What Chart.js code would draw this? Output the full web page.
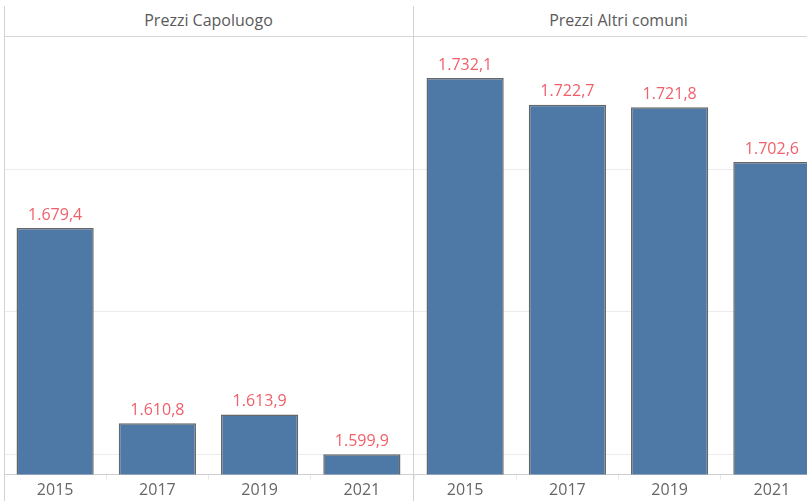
<!DOCTYPE html>
<html>
<head>
<meta charset="utf-8">
<script src="https://cdn.jsdelivr.net/npm/chart.js@4"></script>
<style>
  html, body { margin: 0; padding: 0; background: #fff; }
  body { width: 807px; height: 501px; overflow: hidden; position: relative; font-family: "Open Sans", Lato, sans-serif; }
  .panel { position: absolute; top: 0; width: 409px; height: 501px; }
  .header { height: 36px; line-height: 40px; text-align: center; color: #5a5a5a; font-size: 16px; border-bottom: 1px solid #d6d6d6; }
  .plot { position: absolute; top: 37px; left: 0; width: 409px; height: 464px; }
  .vline { position: absolute; top: 6px; bottom: 0; width: 1px; background: #d2d2d2; }
  .hline { position: absolute; left: 4px; right: 0; top: 36px; height: 1px; background: #d6d6d6; }
</style>
</head>
<body>
<div class="panel" style="left:4px">
  <div class="header" id="title0"></div>
  <div class="plot"><canvas id="chart0"></canvas></div>
</div>
<div class="panel" style="left:414px">
  <div class="header" id="title1"></div>
  <div class="plot"><canvas id="chart1"></canvas></div>
</div>
<div class="hline"></div>
<div class="vline" style="left:4px"></div>
<div class="vline" style="left:413px"></div>

<script>
// ====== Data ======
const years = ["2015", "2017", "2019", "2021"];
const capoluogoValues = [1679.4, 1610.8, 1613.9, 1599.9];
const altriComuniValues = [1732.1, 1722.7, 1721.8, 1702.6];
const panelTitles = ["Prezzi Capoluogo", "Prezzi Altri comuni"];
const yMin = 1592.8;
const yMax = 1746.5;
const yStep = 50;

const FONT = "'Open Sans', Lato, sans-serif";

// Italian style number: 1.679,4
const fmt = (v) => {
  const [int, dec] = v.toFixed(1).split(".");
  return int.replace(/\B(?=(\d{3})+(?!\d))/g, ".") + "," + dec;
};

// draws the value above each bar
const valueLabels = {
  id: "valueLabels",
  afterDatasetsDraw(chart) {
    const { ctx } = chart;
    const meta = chart.getDatasetMeta(0);
    ctx.save();
    ctx.font = "16px " + FONT;
    ctx.fillStyle = "#f0606a";
    ctx.textAlign = "center";
    ctx.textBaseline = "middle";
    meta.data.forEach((bar, i) => {
      ctx.fillText(fmt(chart.data.datasets[0].data[i]), bar.x, bar.y - 13);
    });
    ctx.restore();
  },
};

const createChart = (id, values) => {
  return new Chart(document.getElementById(id), {
    type: "bar",
    data: {
      labels: years,
      datasets: [
        {
          data: values,
          backgroundColor: "#4e79a7",
          borderColor: "#666",
          borderWidth: 1.5,
          borderSkipped: "bottom",
          categoryPercentage: 1,
          barPercentage: 0.755,
        },
      ],
    },
    options: {
      responsive: false,
      animation: false,
      layout: { padding: 0 },
      plugins: { legend: { display: false }, tooltip: { enabled: false } },
      scales: {
        x: {
          grid: { offset: true, drawOnChartArea: false, drawTicks: true, tickLength: 5, color: "#e8e8e8" },
          border: { color: "#cfcfcf", width: 1 },
          ticks: { color: "#666", font: { size: 16, family: FONT }, padding: 1 },
          afterFit: (s) => { s.height = 26.5; },
        },
        y: {
          min: yMin,
          max: yMax,
          ticks: { display: false, stepSize: yStep },
          grid: { color: "#ececec", drawTicks: false },
          border: { display: false },
          afterBuildTicks: (s) => { s.ticks = s.ticks.filter((t) => t.value % yStep === 0); },
          afterFit: (s) => { s.width = 0; },
        },
      },
    },
    plugins: [valueLabels],
  });
};

[capoluogoValues, altriComuniValues].forEach((vals, i) => {
  const cv = document.getElementById("chart" + i);
  cv.width = 409;
  cv.height = 464;
  document.getElementById("title" + i).textContent = panelTitles[i];
  createChart("chart" + i, vals);
});
</script>
</body>
</html>
